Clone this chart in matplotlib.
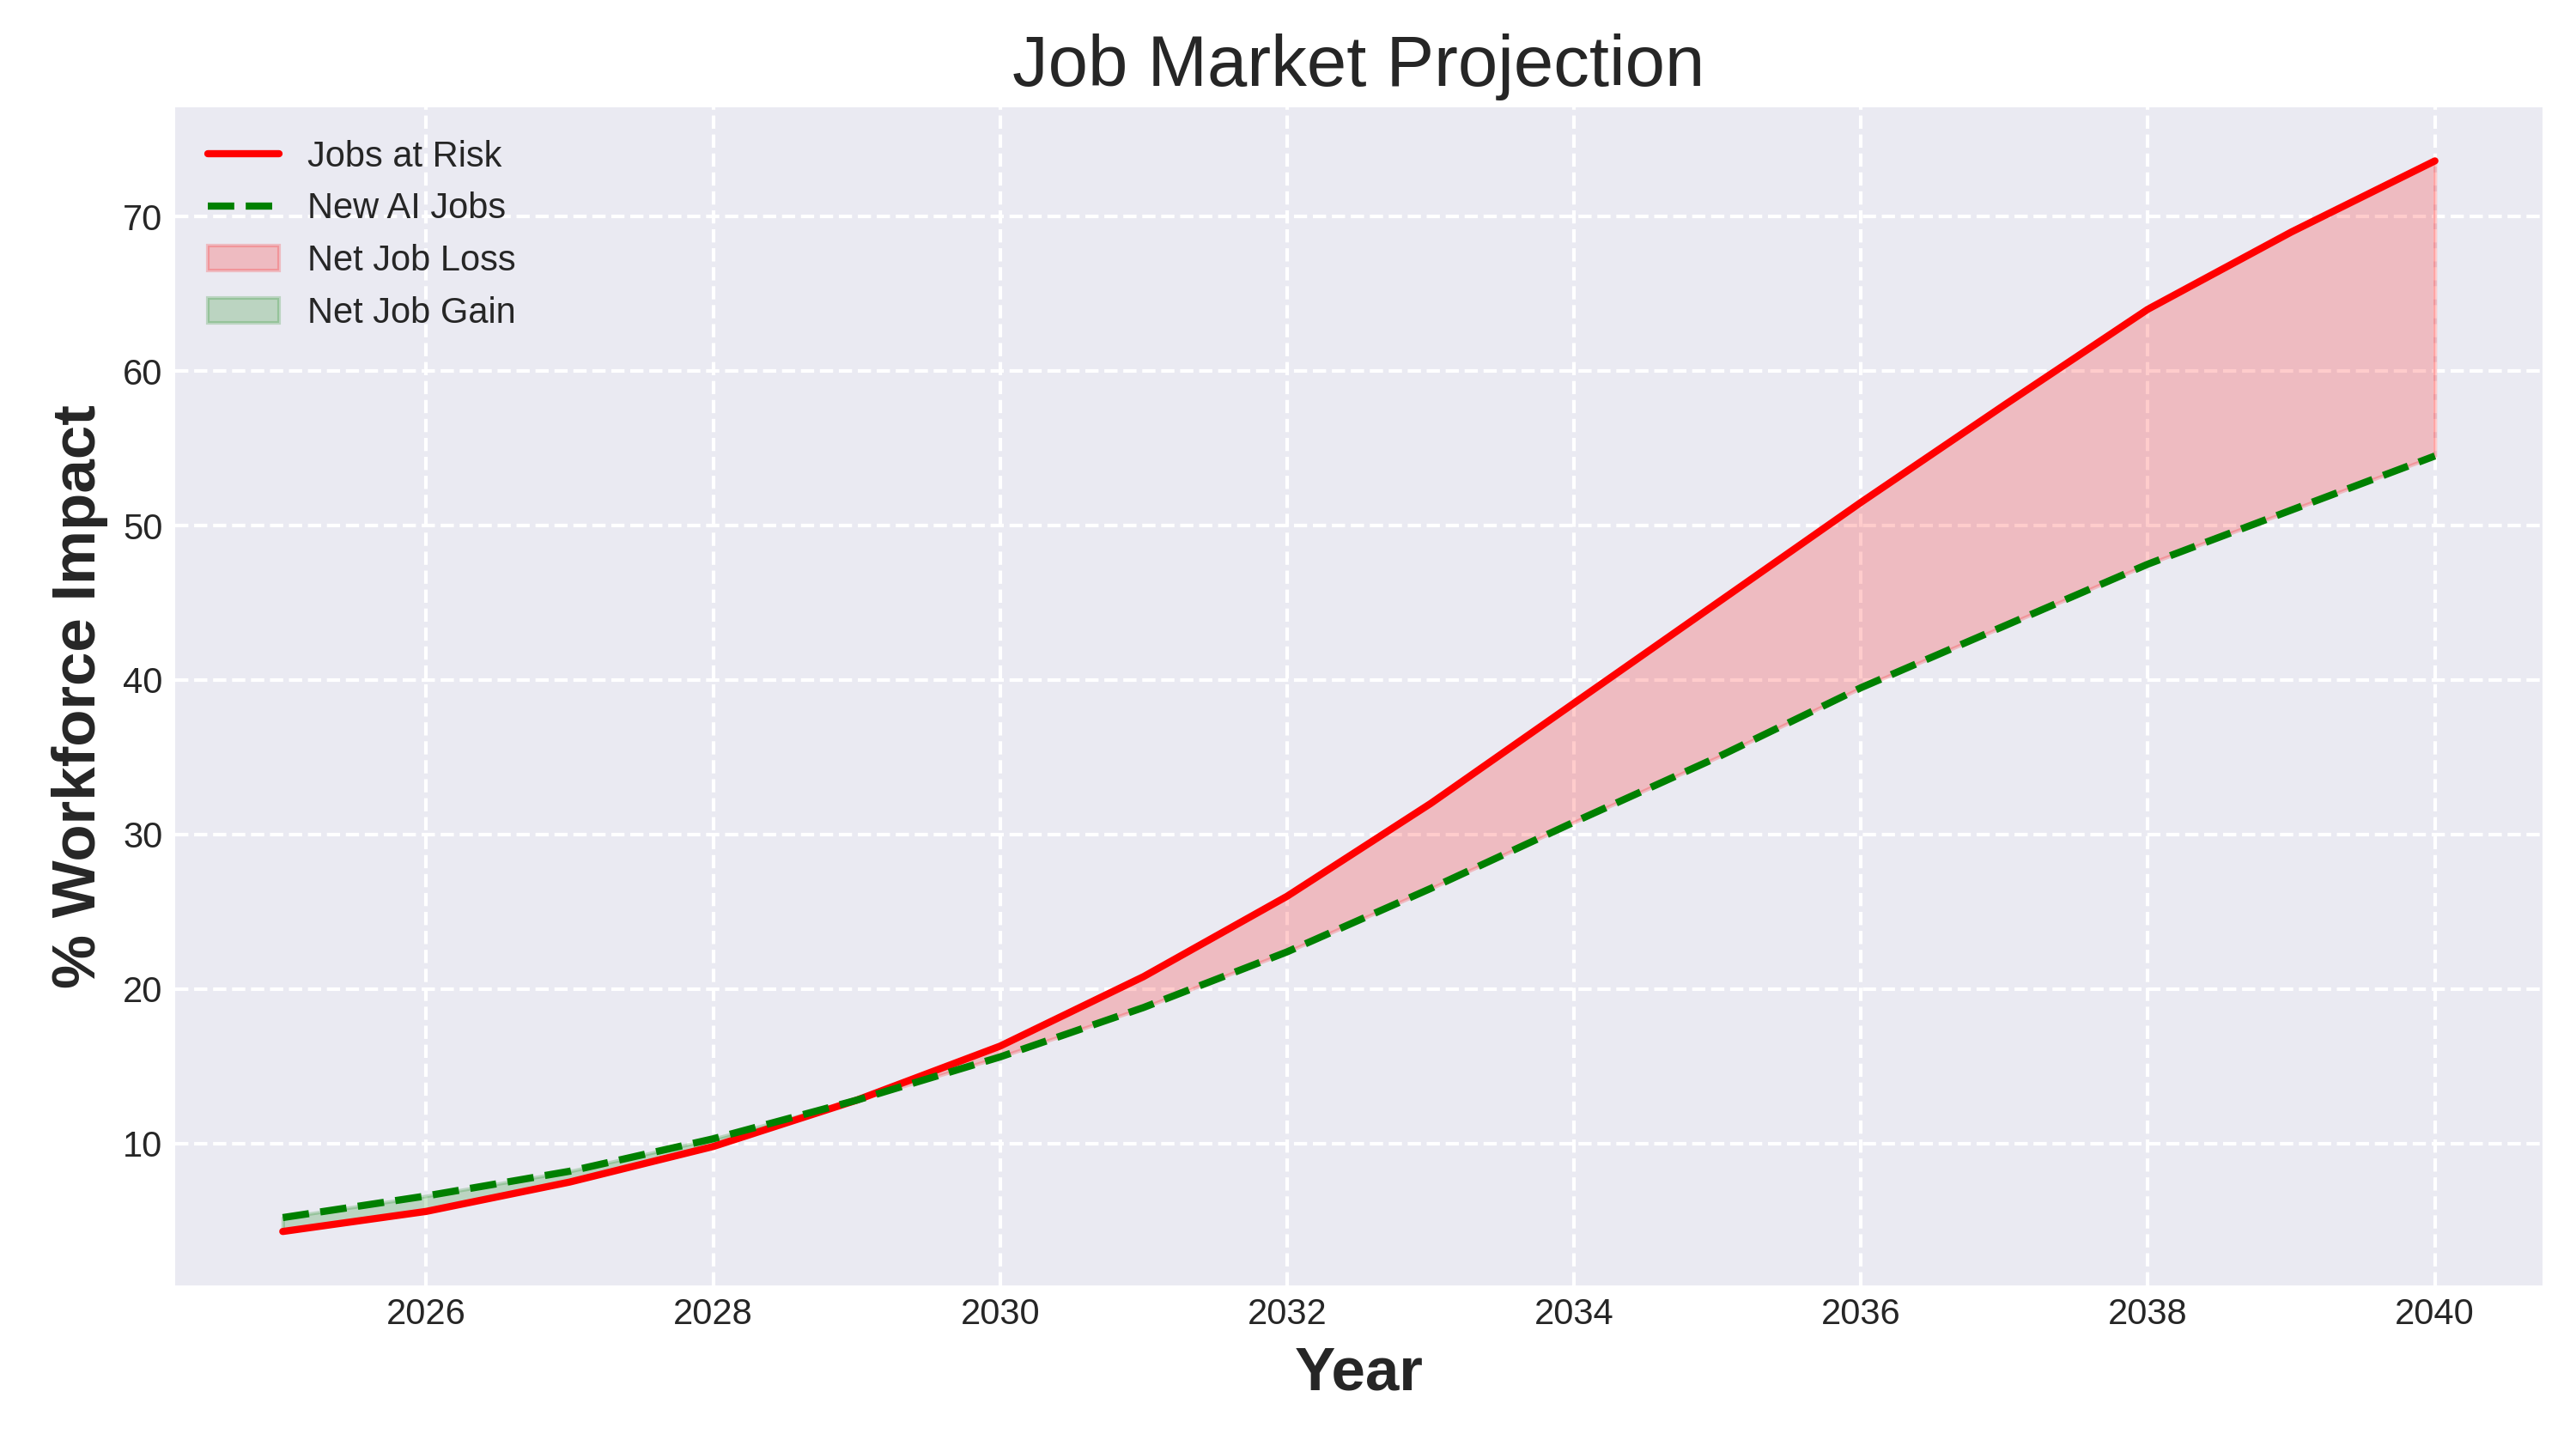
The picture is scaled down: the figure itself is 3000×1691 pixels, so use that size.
import numpy as np
import matplotlib.pyplot as plt

plt.style.use('seaborn-v0_8-darkgrid')
plt.rcParams['font.family'] = ['Liberation Sans', 'DejaVu Sans']

years = np.arange(2025, 2041)
jobs_at_risk = np.array([4.3, 5.6, 7.5, 9.8, 12.8, 16.3, 20.8, 26.0, 32.0, 38.5,
                         45.0, 51.5, 57.8, 64.0, 69.0, 73.6])
new_ai_jobs = np.array([5.2, 6.6, 8.2, 10.3, 12.8, 15.6, 18.8, 22.4, 26.5, 30.8,
                        35.0, 39.5, 43.5, 47.5, 51.0, 54.5])

fig, ax = plt.subplots(figsize=(10, 5.637), dpi=300)
fig.subplots_adjust(left=0.068, right=0.987, top=0.926, bottom=0.115)

ax.plot(years, jobs_at_risk, color='red', lw=2, label='Jobs at Risk')
ax.plot(years, new_ai_jobs, color='green', lw=2, ls='--', label='New AI Jobs')
ax.fill_between(years, jobs_at_risk, new_ai_jobs, where=jobs_at_risk >= new_ai_jobs,
                interpolate=True, color='red', alpha=0.2, label='Net Job Loss')
ax.fill_between(years, jobs_at_risk, new_ai_jobs, where=jobs_at_risk < new_ai_jobs,
                interpolate=True, color='green', alpha=0.2, label='Net Job Gain')

ax.set_title('Job Market Projection', fontsize=20)
ax.set_xlabel('Year', fontsize=17, fontweight='bold')
ax.set_ylabel('% Workforce Impact', fontsize=17, fontweight='bold')
ax.grid(True, ls='--', color='white', lw=1)
ax.legend(loc='upper left', fontsize=10)
fig.savefig('out.png')
